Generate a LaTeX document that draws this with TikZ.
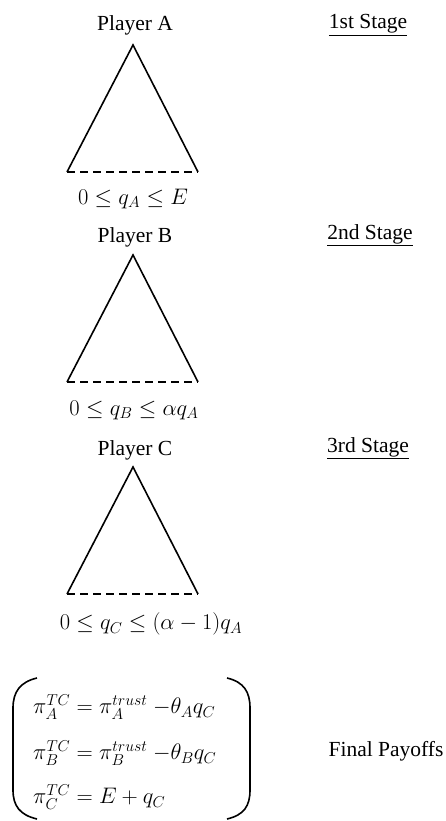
\documentclass[tikz,border=0pt]{standalone}
\usepackage{fix-cm}
\usepackage{fontspec}
\setmainfont{Liberation Serif}

\begin{document}
\begin{tikzpicture}[x=1pt, y=-1pt, font=\fontsize{21.5}{26}\selectfont,
		arbre/.style={line width=1.6pt, line join=miter},
		base/.style={line width=1.6pt, dash pattern=on 8pt off 5pt},
		etape/.style={anchor=center},
		calcul/.style={font=\fontsize{22.5}{27}\selectfont, inner sep=1pt},
		accolade/.style={line width=1.6pt}]
		\useasboundingbox (0,0) rectangle (446,821);

		% Premier joueur
		\node (jA) at (135,25) {Player A};
		\coordinate (sA) at (133,45);
		\coordinate (gA) at (67,172);
		\coordinate (dA) at (198,172);
		\draw[arbre] (gA) -- (sA) -- (dA);
		\draw[base] (gA) -- (dA);
		\node[calcul] (qA) at (133,199) {$0\le q_A\le E$};
		\node[etape] (eA) at (368,25) {\underline{1st Stage}};

		% Deuxième joueur
		\node (jB) at (135,237) {Player B};
		\coordinate (sB) at (133,255);
		\coordinate (gB) at (67,382);
		\coordinate (dB) at (198,382);
		\draw[arbre] (gB) -- (sB) -- (dB);
		\draw[base] (gB) -- (dB);
		\node[calcul] (qB) at (134,410) {$0\le q_B\le \alpha q_A$};
		\node[etape] (eB) at (370,235) {\underline{2nd Stage}};

		% Troisième joueur
		\node (jC) at (135,450) {Player C};
		\coordinate (sC) at (133,467);
		\coordinate (gC) at (67,594);
		\coordinate (dC) at (198,594);
		\draw[arbre] (gC) -- (sC) -- (dC);
		\draw[base] (gC) -- (dC);
		\node[calcul] (qC) at (151,624) {$0\le q_C\le (\alpha-1)q_A$};
		\node[etape] (eC) at (368,448) {\underline{3rd Stage}};

		% Gains finaux
		\draw[accolade] (37,678) .. controls (20,682) and (13,692) .. (13,708) -- (13,790)
			.. controls (13,806) and (20,815) .. (37,819);
		\draw[accolade] (227,678) .. controls (244,682) and (250,692) .. (250,708) -- (250,790)
			.. controls (250,806) and (244,815) .. (227,819);
		\node[calcul, anchor=west] (pA) at (32,707) {$\pi_A^{TC}=\pi_A^{trust}\ {-\theta_A}q_C$};
		\node[calcul, anchor=west] (pB) at (32,753) {$\pi_B^{TC}=\pi_B^{trust}\ {-\theta_B}q_C$};
		\node[calcul, anchor=west] (pC) at (32,797) {$\pi_C^{TC}=E+q_C$};
		\node (fin) at (386,751) {Final Payoffs};
	\end{tikzpicture}
\end{document}
